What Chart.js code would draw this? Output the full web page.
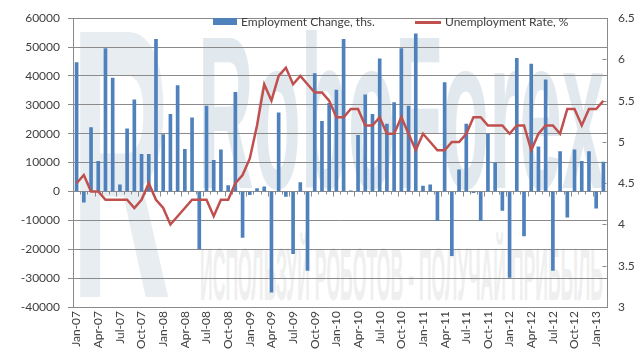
<!DOCTYPE html>
<html>
<head>
<meta charset="utf-8">
<script src="https://cdn.jsdelivr.net/npm/chart.js@4.4.1/dist/chart.umd.min.js"></script>
<style>
  html, body { margin: 0; padding: 0; background: #ffffff; }
  #wrap { position: relative; width: 640px; height: 357px; overflow: hidden; }
  #wm { position: absolute; left: 0; top: 0; z-index: 0; }
  #c { position: absolute; left: 0; top: 0; z-index: 1; }
  .lg { position: absolute; z-index: 2; font-family: Lato, "Liberation Sans", sans-serif; font-size: 12px; color: #404040; line-height: 14px; white-space: nowrap; }
</style>
</head>
<body>
<div id="wrap">
  <svg id="wm" width="640" height="357">
    <text x="71" y="297" font-family="Liberation Sans" font-weight="bold" font-size="385" fill="#e8edf1" textLength="100" lengthAdjust="spacingAndGlyphs">R</text>
    <text x="198" y="188" font-family="Liberation Sans" font-weight="bold" font-size="218" fill="#e1e9ef" textLength="407" lengthAdjust="spacingAndGlyphs">RoboForex</text>
    <text x="200" y="300" font-family="Liberation Sans" font-weight="bold" font-size="75" fill="#efefef" textLength="403" lengthAdjust="spacingAndGlyphs">ИСПОЛЬЗУЙ РОБОТОВ - ПОЛУЧАЙ ПРИБЫЛЬ</text>
  </svg>
  <canvas id="c" width="640" height="357"></canvas>
  <div class="lg" style="left:213px;top:18px;width:24px;height:7px;background:#4f81bd;"></div>
  <div class="lg" style="left:241px;top:15px;">Employment Change, ths.</div>
  <div class="lg" style="left:415px;top:21px;width:26px;height:2.5px;background:#c0504d;"></div>
  <div class="lg" style="left:445px;top:15px;">Unemployment Rate, %</div>
</div>
<script>
const months = [
  "Jan-07","Feb-07","Mar-07","Apr-07","May-07","Jun-07","Jul-07","Aug-07","Sep-07","Oct-07","Nov-07","Dec-07",
  "Jan-08","Feb-08","Mar-08","Apr-08","May-08","Jun-08","Jul-08","Aug-08","Sep-08","Oct-08","Nov-08","Dec-08",
  "Jan-09","Feb-09","Mar-09","Apr-09","May-09","Jun-09","Jul-09","Aug-09","Sep-09","Oct-09","Nov-09","Dec-09",
  "Jan-10","Feb-10","Mar-10","Apr-10","May-10","Jun-10","Jul-10","Aug-10","Sep-10","Oct-10","Nov-10","Dec-10",
  "Jan-11","Feb-11","Mar-11","Apr-11","May-11","Jun-11","Jul-11","Aug-11","Sep-11","Oct-11","Nov-11","Dec-11",
  "Jan-12","Feb-12","Mar-12","Apr-12","May-12","Jun-12","Jul-12","Aug-12","Sep-12","Oct-12","Nov-12","Dec-12",
  "Jan-13","Feb-13"
];
const employmentChange = [
  44600, -3700, 22100, 10400, 49500, 39300, 2300, 21700, 31700, 12900, 12900, 52700,
  19700, 26700, 36700, 14600, 25500, -19900, 29600, 10800, 14400, 2000, 34300, -15900,
  -1100, 1000, 1600, -34900, 27200, -1700, -21500, 3100, -27300, 40800, 24300, 30500,
  35100, 52700, 200, 19400, 33500, 26700, 45900, 23300, 30800, 49500, 29600, 54600,
  1900, 2300, -10100, 37700, -22200, 7500, 23300, -400, -10100, 20000, 9900, -6600,
  -29800, 46100, -15400, 44100, 15500, 38700, -27300, 13800, -8900, 14400, 10400, 13800,
  -5800, 10200
];
const unemploymentRate = [
  4.5, 4.6, 4.4, 4.4, 4.3, 4.3, 4.3, 4.3, 4.2, 4.3, 4.5, 4.3,
  4.2, 4.0, 4.1, 4.2, 4.3, 4.3, 4.3, 4.1, 4.3, 4.3, 4.5, 4.6,
  4.8, 5.2, 5.7, 5.5, 5.8, 5.9, 5.7, 5.8, 5.7, 5.6, 5.6, 5.5,
  5.3, 5.3, 5.4, 5.4, 5.2, 5.2, 5.3, 5.1, 5.1, 5.3, 5.1, 4.9,
  5.1, 5.0, 4.9, 4.9, 5.0, 5.0, 5.1, 5.3, 5.3, 5.2, 5.2, 5.2,
  5.1, 5.2, 5.2, 4.9, 5.1, 5.2, 5.2, 5.1, 5.4, 5.4, 5.2, 5.4,
  5.4, 5.5
];
const leftAxisRange = [-40000, 60000, 10000];
const rightAxisRange = [3, 6.5, 0.5];
const labelEvery = 3;

const FONT = { family: 'Lato, "Liberation Sans", sans-serif', size: 12 };
const AXIS_GREY = '#8a8a8a';
const TEXT = '#404040';

const zeroTicks = {
  id: 'zeroTicks',
  beforeDatasetsDraw(chart) {
    const x = chart.scales.x, y = chart.scales.y, y1 = chart.scales.y1;
    const ctx = chart.ctx;
    const y0 = Math.round(y.getPixelForValue(0)) + 0.5;
    ctx.save();
    ctx.strokeStyle = AXIS_GREY;
    ctx.lineWidth = 1;
    const n = months.length;
    const step = (x.getPixelForValue(1) - x.getPixelForValue(0));
    for (let i = 0; i <= n; i++) {
      const px = Math.round(x.getPixelForValue(i) - step / 2) + 0.5;
      const len = (i % labelEvery === 0) ? 5 : 3;
      ctx.beginPath();
      ctx.moveTo(px, y0);
      ctx.lineTo(px, y0 + len);
      ctx.stroke();
    }
    const r = Math.round(chart.chartArea.right) - 0.5;
    for (let v = rightAxisRange[0]; v <= rightAxisRange[1] + 1e-9; v += rightAxisRange[2]) {
      const py = Math.round(y1.getPixelForValue(v)) + 0.5;
      ctx.beginPath();
      ctx.moveTo(r - 4, py);
      ctx.lineTo(r, py);
      ctx.stroke();
    }
    ctx.restore();
  }
};

new Chart(document.getElementById('c'), {
  data: {
    labels: months,
    datasets: [
      {
        type: 'line',
        label: 'Unemployment Rate, %',
        data: unemploymentRate,
        yAxisID: 'y1',
        borderColor: '#c0504d',
        backgroundColor: '#c0504d',
        borderWidth: 2.5,
        pointRadius: 0,
        tension: 0,
        order: 1
      },
      {
        type: 'bar',
        label: 'Employment Change, ths.',
        data: employmentChange,
        yAxisID: 'y',
        backgroundColor: '#4f81bd',
        barThickness: 3,
        order: 2
      }
    ]
  },
  options: {
    responsive: false,
    animation: false,
    devicePixelRatio: 1,
    layout: { padding: { top: 13, left: 0, right: 0, bottom: 0 } },
    plugins: { legend: { display: false }, tooltip: { enabled: false } },
    scales: {
      x: {
        type: 'category',
        offset: true,
        grid: { display: false, drawTicks: false },
        border: { display: true, color: AXIS_GREY },
        ticks: {
          autoSkip: false,
          minRotation: 90,
          maxRotation: 90,
          padding: 4,
          color: TEXT,
          font: FONT,
          callback: (v, i) => (i % labelEvery === 0 ? months[i] : '')
        },
        afterFit: (s) => { s.height = 50; }
      },
      y: {
        position: 'left',
        min: leftAxisRange[0],
        max: leftAxisRange[1],
        grid: { color: AXIS_GREY, lineWidth: 1, tickLength: 5, drawTicks: true },
        border: { display: true, color: AXIS_GREY },
        ticks: {
          stepSize: leftAxisRange[2],
          padding: 8,
          color: TEXT,
          font: FONT,
          callback: (v) => String(v)
        },
        afterFit: (s) => { s.width = 73; }
      },
      y1: {
        position: 'right',
        min: rightAxisRange[0],
        max: rightAxisRange[1],
        grid: { drawOnChartArea: false, drawTicks: false },
        border: { display: true, color: AXIS_GREY },
        ticks: {
          stepSize: rightAxisRange[2],
          padding: 11,
          color: TEXT,
          font: FONT,
          callback: (v) => String(v)
        },
        afterFit: (s) => { s.width = 33; }
      }
    }
  },
  plugins: [zeroTicks]
});
</script>
</body>
</html>
